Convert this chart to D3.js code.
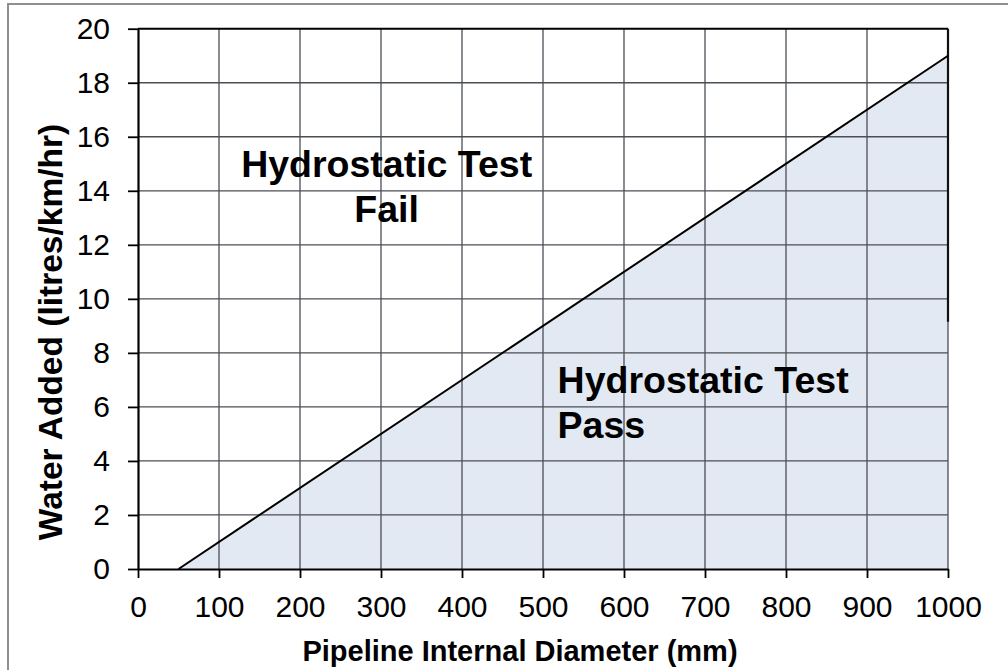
<!DOCTYPE html>
<html>
<head>
<meta charset="utf-8">
<script src="https://cdn.jsdelivr.net/npm/d3@7"></script>
<style>
  html, body { margin: 0; padding: 0; background: #fff; }
  svg { display: block; }
  text { font-family: "Liberation Sans", Arial, sans-serif; fill: #000; }
</style>
</head>
<body>
<svg id="chart" width="1008" height="670"></svg>
<script>
// ---- data ----
const diameterMm = [0, 50, 1000];          // pipeline internal diameter (mm)
const waterAdded = [0, 0, 19];             // allowable water added (litres/km/hr)
const xTicks = [0, 100, 200, 300, 400, 500, 600, 700, 800, 900, 1000];
const yTicks = [0, 2, 4, 6, 8, 10, 12, 14, 16, 18, 20];
const xTitle = "Pipeline Internal Diameter (mm)";
const yTitle = "Water Added (litres/km/hr)";
const failLines = ["Hydrostatic Test", "Fail"];
const passLines = ["Hydrostatic Test", "Pass"];
const failAnchor = [307, 14.5];   // data coords of first-line baseline centre
const passAnchor = [518, 6.52];   // data coords of first-line baseline start

// ---- layout ----
const svg = d3.select("#chart");
const mLeft = 138, mRight = 948, mTop = 28.7, mBottom = 569;
const x = d3.scaleLinear().domain([0, 1000]).range([mLeft, mRight]);
const y = d3.scaleLinear().domain([0, 20]).range([mBottom, mTop]);

// outer frame
svg.append("rect").attr("x", 8).attr("y", 4).attr("width", 1010).attr("height", 680)
  .attr("fill", "none").attr("stroke", "#8f8f8f").attr("stroke-width", 2);

const pts = diameterMm.map((d, i) => [d, waterAdded[i]]);

// pass area
const area = d3.area().x(d => x(d[0])).y0(y(0)).y1(d => y(d[1]));
svg.append("path").datum(pts.filter(d => d[0] >= 50))
  .attr("d", area).attr("fill", "#e2e9f3");

// grid
const grid = svg.append("g").attr("stroke", "#4a4e55").attr("stroke-width", 1.3);
grid.selectAll(".v").data(xTicks.filter(t => t > 0)).join("line")
  .attr("x1", d => x(d)).attr("x2", d => x(d)).attr("y1", y(20)).attr("y2", y(0));
grid.selectAll(".h").data(yTicks.filter(t => t > 0 && t < 20)).join("line")
  .attr("x1", x(0)).attr("x2", x(1000)).attr("y1", d => y(d)).attr("y2", d => y(d));

// top frame and right edge segment
svg.append("line").attr("x1", x(0)).attr("x2", x(1000)).attr("y1", y(20)).attr("y2", y(20))
  .attr("stroke", "#000").attr("stroke-width", 2);
svg.append("line").attr("x1", x(1000)).attr("x2", x(1000)).attr("y1", y(20)).attr("y2", y(9.15))
  .attr("stroke", "#111").attr("stroke-width", 2.2);

// line
svg.append("path").datum(pts.filter(d => d[0] >= 50))
  .attr("d", d3.line().x(d => x(d[0])).y(d => y(d[1])))
  .attr("fill", "none").attr("stroke", "#000").attr("stroke-width", 2);

// axes
const xAxis = svg.append("g").attr("transform", `translate(0,${mBottom})`)
  .call(d3.axisBottom(x).tickValues(xTicks).tickFormat(d3.format("d")).tickSizeOuter(0).tickSizeInner(9).tickPadding(18));
const yAxis = svg.append("g").attr("transform", `translate(${mLeft},0)`)
  .call(d3.axisLeft(y).tickValues(yTicks).tickFormat(d3.format("d")).tickSizeOuter(0).tickSizeInner(10).tickPadding(18));
[xAxis, yAxis].forEach(g => {
  g.select(".domain").attr("stroke", "#000").attr("stroke-width", 2.2);
  g.selectAll(".tick line").attr("stroke", "#000").attr("stroke-width", 1.8);
  g.selectAll(".tick text").attr("font-size", 30).attr("font-family", "Liberation Sans, Arial, sans-serif").attr("fill", "#000");
});
xAxis.selectAll(".tick text").attr("dy", 0).attr("y", 48);

// titles
svg.append("text").attr("x", 520).attr("y", 661).attr("text-anchor", "middle")
  .attr("font-size", 29).attr("font-weight", "bold").text(xTitle);
svg.append("text").attr("transform", "translate(62,332) rotate(-90)").attr("text-anchor", "middle")
  .attr("font-size", 33.5).attr("font-weight", "bold").text(yTitle);

// annotations
const fail = svg.append("text").attr("font-size", 37.5).attr("font-weight", "bold").attr("text-anchor", "middle");
failLines.forEach((t, i) => fail.append("tspan").attr("x", x(failAnchor[0])).attr("y", y(failAnchor[1]) + i * 44.5).text(t));
const pass = svg.append("text").attr("font-size", 37.5).attr("font-weight", "bold").attr("text-anchor", "start");
passLines.forEach((t, i) => pass.append("tspan").attr("x", x(passAnchor[0])).attr("y", y(passAnchor[1]) + i * 45).text(t));
</script>
</body>
</html>
